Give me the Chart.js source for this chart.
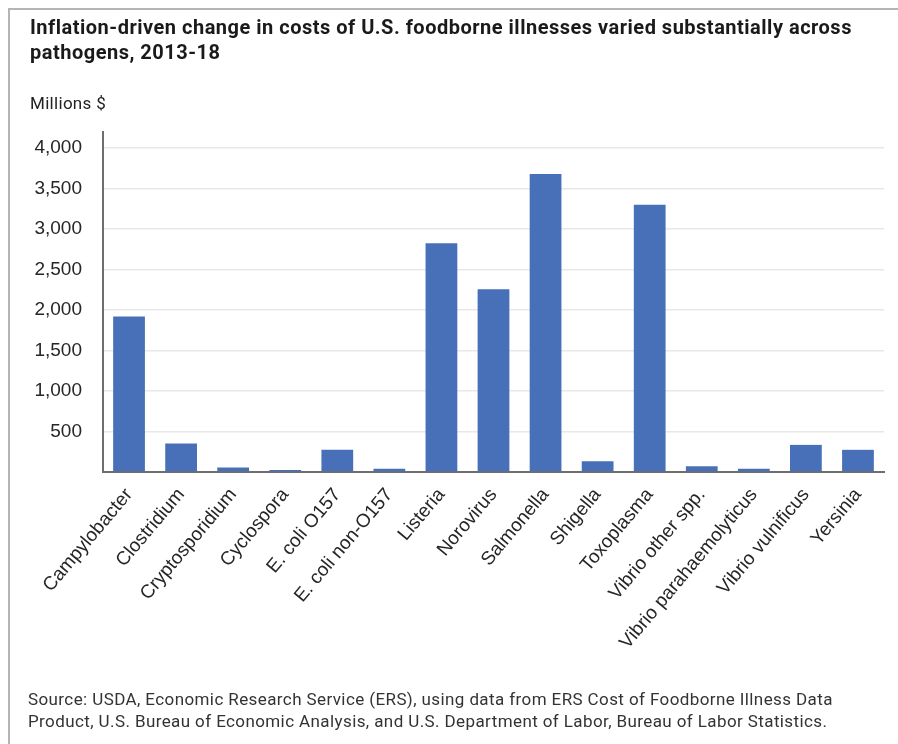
<!DOCTYPE html>
<html>
<head>
<meta charset="utf-8">
<script src="https://cdn.jsdelivr.net/npm/chart.js@4"></script>
<style>
  html, body { margin: 0; padding: 0; background: #fff; }
  #frame {
    position: relative; width: 898px; height: 744px; overflow: hidden;
    font-family: Roboto, "Noto Sans", sans-serif; color: #222;
  }
  #frame::before {
    content: ""; position: absolute; left: 8px; top: 8px; right: 0; bottom: 0;
    border-left: 2px solid #b4b4b4; border-top: 2px solid #b4b4b4;
  }
  #title {
    position: absolute; left: 30px; top: 15px; width: 868px; white-space: nowrap;
    font-weight: 700; font-size: 20px; letter-spacing: 0.5px; line-height: 25px; color: #1a1a1a;
  }
  #unit { position: absolute; left: 30px; top: 93px; font-size: 17px; letter-spacing: 0.3px; color: #222; }
  #source {
    position: absolute; left: 28px; top: 688px; white-space: nowrap;
    font-size: 17px; letter-spacing: 0.4px; line-height: 22px; color: #333;
  }
  #chartBox { position: absolute; left: 0; top: 0; width: 898px; height: 744px; }
</style>
</head>
<body>
<div id="frame">
  <div id="chartBox"><canvas id="c"></canvas></div>
  <div id="title">Inflation-driven change in costs of U.S. foodborne illnesses varied substantially across<br>pathogens, 2013-18</div>
  <div id="unit">Millions $</div>
  <div id="source">Source: USDA, Economic Research Service (ERS), using data from ERS Cost of Foodborne Illness Data<br>Product, U.S. Bureau of Economic Analysis, and U.S. Department of Labor, Bureau of Labor Statistics.</div>
</div>
<script>
// Pathogens on the category axis
const pathogens = [
  "Campylobacter", "Clostridium", "Cryptosporidium", "Cyclospora", "E. coli O157",
  "E. coli non-O157", "Listeria", "Norovirus", "Salmonella", "Shigella",
  "Toxoplasma", "Vibrio other spp.", "Vibrio parahaemolyticus", "Vibrio vulnificus", "Yersinia"
];
// Inflation-driven change in cost, millions of dollars
const costChange = [1920, 352, 55, 25, 274, 40, 2825, 2257, 3681, 133, 3302, 72, 40, 335, 274];
// Value-axis ticks that get labels and gridlines
const yTickValues = [0, 500, 1000, 1500, 2000, 2500, 3000, 3500, 4000];

const tickFont = { family: "'Liberation Sans', Arial, sans-serif", size: 19 };

new Chart(document.getElementById("c"), {
  type: "bar",
  data: {
    labels: pathogens,
    datasets: [{
      data: costChange,
      backgroundColor: "#4870b8",
      borderWidth: 0,
      barPercentage: 0.61,
      categoryPercentage: 1.0
    }]
  },
  options: {
    responsive: true,
    maintainAspectRatio: false,
    animation: false,
    layout: { padding: { top: 132, right: 14, left: 0, bottom: 0 } },
    plugins: { legend: { display: false }, tooltip: { enabled: false }, title: { display: false } },
    scales: {
      x: {
        afterFit: (s) => { s.height = 744 - 472; },
        grid: { display: false, drawTicks: false },
        border: { display: true, color: "#6e6e6e", width: 2 },
        ticks: {
          maxRotation: 50, minRotation: 50, autoSkip: false, padding: 12,
          color: "#262626", font: tickFont
        }
      },
      y: {
        min: 0, max: 4200,
        afterFit: (s) => { s.width = 103; },
        afterBuildTicks: (s) => { s.ticks = yTickValues.map(v => ({ value: v })); },
        grid: {
          drawTicks: false, lineWidth: 1.5,
          color: (ctx) => (ctx.tick && ctx.tick.value === 0) ? "rgba(0,0,0,0)" : "#e8e8e8"
        },
        border: { display: true, color: "#6e6e6e", width: 2 },
        ticks: {
          padding: 21, color: "#262626", font: tickFont,
          callback: (v) => v === 0 ? "" : v.toLocaleString("en-US")
        }
      }
    }
  }
});
</script>
</body>
</html>
